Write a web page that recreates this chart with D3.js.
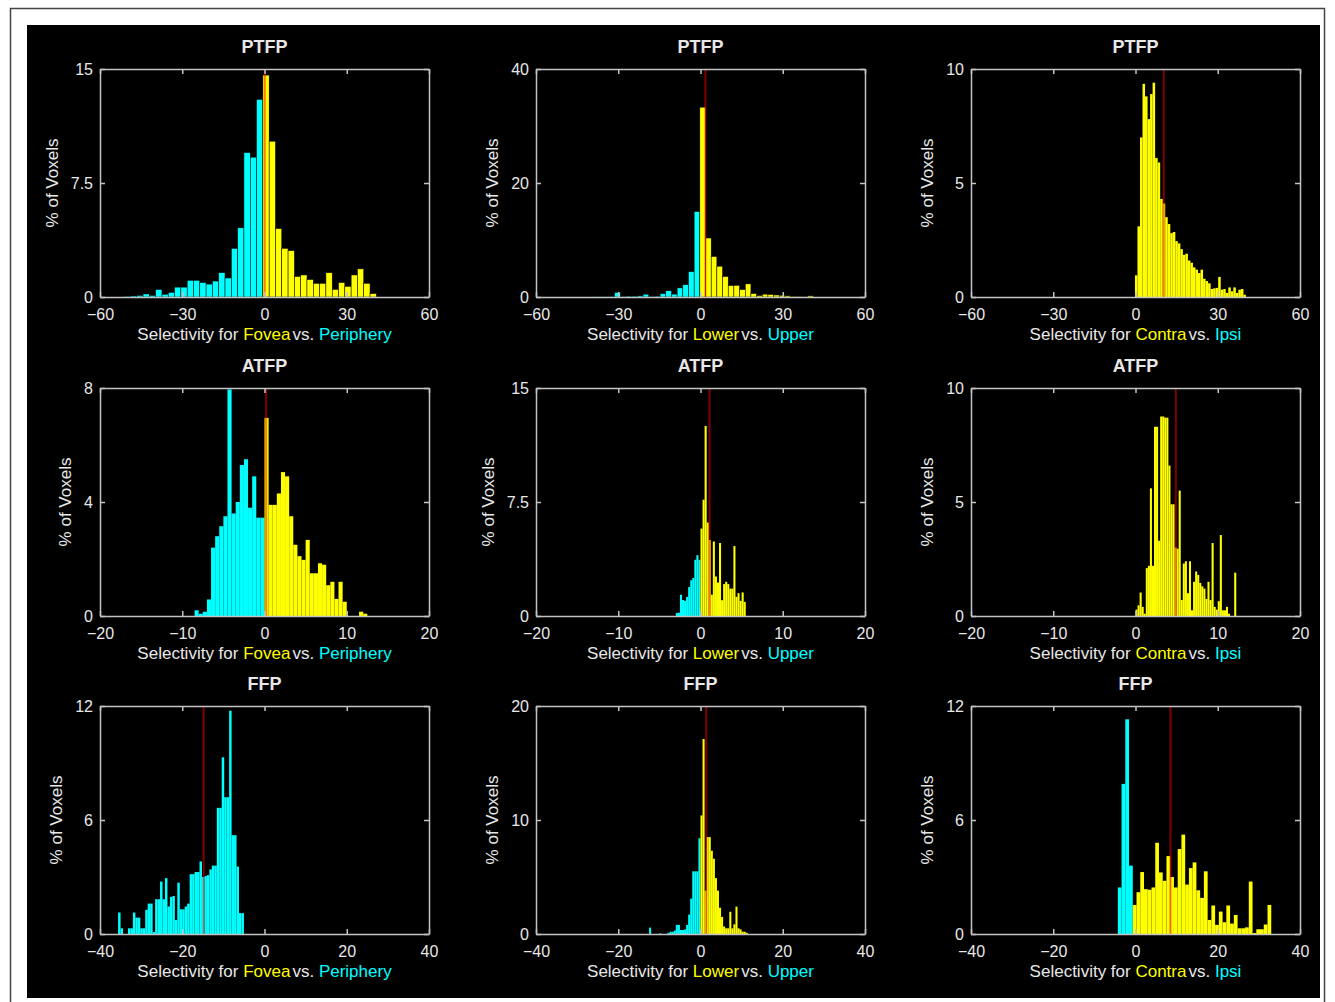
<!DOCTYPE html>
<html><head><meta charset="utf-8">
<script src="https://cdn.jsdelivr.net/npm/d3@7"></script>
<style>
html,body{margin:0;padding:0;background:#fff;}
svg{display:block;font-family:"Liberation Sans",Arial,Helvetica,sans-serif;}
</style></head><body>
<svg id="chart" width="1335" height="1002"></svg>
<script>
// ---------- data ----------
const rowTitles = ["PTFP", "ATFP", "FFP"];
const colLabels = [["Fovea", "Periphery"], ["Lower", "Upper"], ["Contra", "Ipsi"]];
const rowXDomain = [[-60, 60], [-20, 20], [-40, 40]];
const rowXTicks = [[-60, -30, 0, 30, 60], [-20, -10, 0, 10, 20], [-40, -20, 0, 20, 40]];
const yMax = [15, 40, 10, 8, 15, 10, 12, 20, 12];
const yTicks = [[0, 7.5, 15], [0, 20, 40], [0, 5, 10], [0, 4, 8], [0, 7.5, 15], [0, 5, 10], [0, 6, 12], [0, 10, 20], [0, 6, 12]];
const binStart = [-51.2, -39.57, -0.2, -8.5, -3, 0, -35.6, -12.5, -4.3];
const binWidth = [2.3, 2.07, 0.92, 0.5, 0.25, 0.25, 0.6, 0.5, 0.91];
const meanLine = [0.1, 1.8, 10.3, 0.2, 1.1, 4.9, -14.8, 1.4, 8.5];

const ptfpFovea = [0.05,0.07,0.1,0.2,0.1,0.5,0.18,0.3,0.65,0.65,1.1,1.1,0.95,0.85,1.05,1.6,1.25,3.2,4.55,9.5,9.2,13.0,
  14.6,10.25,4.5,3.2,3.05,1.35,1.45,1.15,0.9,0.9,1.6,0.5,0.95,0.7,1.45,1.85,0.9,0.22];
const ptfpLower = [0.05,0.05,0.05,0.1,0.8,0.1,0.15,0.15,0.2,0.5,0.1,0.15,0.6,1.1,0.5,1.6,2.15,4.45,15.0,
  33.3,10.35,7.1,5.4,3.6,2.0,2.05,1.3,2.3,0.6,0.25,0.5,0.45,0.35,0.3,0.2,0.1,0.1,0.05,0.2];
const ptfpContra = [0.95,3.1,7.0,9.35,8.8,7.8,8.9,9.4,6.1,5.9,4.3,4.1,3.5,3.2,2.8,2.85,2.45,2.35,2.1,1.85,1.9,1.6,1.5,1.3,
  1.2,1.05,1.2,0.8,0.7,0.6,0.35,0.38,0.4,0.88,0.32,0.35,0.18,0.42,0.25,0.42,0.18,0.32,0.35,0.1];
const atfpFovea = [0.2,0.08,0.15,0.58,2.4,2.8,3.15,3.5,7.95,3.6,4.0,5.3,5.5,3.8,4.9,3.45,3.45,
  6.95,3.9,3.9,4.3,5.05,4.9,3.5,2.5,2.1,1.97,2.67,1.5,1.5,1.85,1.8,1.08,1.2,0.6,1.2,0.5,0,0,0,0.15,0.08];
const atfpLower = [0.2,0.22,1.4,1.05,1.0,1.26,1.9,2.35,2.5,3.7,4.0,3.7,
  5.75,7.65,12.5,6.15,5.0,1.4,4.9,2.6,2.2,4.8,1.04,2.1,2.25,2.1,1.8,1.8,4.6,1.26,1.5,1.0,1.55,0.93];
const atfpContra = [0.28,0.47,1.03,0.4,0.1,2.1,2.2,5.6,2.2,8.3,8.3,3.3,8.75,8.75,8.7,8.7,6.6,4.9,4.9,3.0,2.95,5.5,0.7,2.3,2.4,
  1.0,2.4,0.25,1.5,1.95,1.8,1.45,1.3,1.2,0.75,1.5,0.7,3.2,0.4,0.28,0.65,3.55,0.25,0.25,0.4,0.1,0,0,1.9];
const ffpFovea = [1.13,0.3,0,0,0.3,0.3,1.13,0.86,0.86,0.3,0.3,1.27,1.6,1.6,0.1,1.83,1.83,2.76,1.83,2.94,1.45,1.95,2.0,0.74,2.7,
  1.3,1.3,1.45,1.6,3.15,3.15,3.26,3.26,3.82,3.0,3.05,3.1,3.4,3.6,3.6,6.64,6.64,9.3,7.2,7.2,11.75,5.2,5.2,3.55,1.1,1.1];
const ffpLower = [0.56,0,0,0,0,0.05,0,0,0,0.1,0.2,0.2,0.3,0.8,0.8,0.35,0.35,0.4,0.8,1.7,3.1,5.5,5.5,5.5,8.4,
  10.4,17.1,3.8,8.5,8.5,7.3,6.6,4.9,3.8,2.3,1.5,0.65,0.5,0.5,1.95,0.5,0.85,2.4,0.5,0.4,0.2,0.2,0.1];
const ffpContra = [2.45,7.9,11.3,3.6,1.53,2.2,3.26,2.36,2.33,2.45,4.8,3.24,2.8,4.1,3.0,2.45,4.47,5.23,2.6,3.47,3.77,2.3,1.9,3.3,
  0.74,1.5,0.48,1.18,0.62,1.5,0.55,1.0,0.3,0.3,0.35,2.76,0.05,0.25,0.25,0.5,1.53];

const panelValues = [ptfpFovea, ptfpLower, ptfpContra, atfpFovea, atfpLower, atfpContra, ffpFovea, ffpLower, ffpContra];

// ---------- layout ----------
const colLeft = [100, 536, 971];
const rowTop = [69, 388, 706];
const pw = 329, ph = 228;
const textCol = "#e8e8e8", boxCol = "#c4c4c4";
const YEL = "#ffff00", CYA = "#00ffff";
const fmt = d => d < 0 ? "\u2212" + Math.abs(d) : String(d);

const svg = d3.select("#chart");
svg.append("rect").attr("x", 10.5).attr("y", 8.5).attr("width", 1314).attr("height", 1010)
  .attr("fill", "none").attr("stroke", "#444").attr("stroke-width", 1.5);
svg.append("rect").attr("x", 27).attr("y", 25).attr("width", 1293).attr("height", 973).attr("fill", "#000");

panelValues.forEach((vals, p) => {
  const r = Math.floor(p / 3), c = p % 3;
  const g = svg.append("g").attr("transform", `translate(${colLeft[c]},${rowTop[r]})`);
  const x = d3.scaleLinear().domain(rowXDomain[r]).range([0, pw]);
  const y = d3.scaleLinear().domain([0, yMax[p]]).range([ph, 0]);

  const bins = vals.map((v, i) => ({ x0: binStart[p] + i * binWidth[p], x1: binStart[p] + (i + 1) * binWidth[p], v }));
  const barPx = x(binWidth[p]) - x(0);
  g.selectAll("rect.bar").data(bins.filter(b => b.v > 0)).join("rect").attr("class", "bar")
    .attr("x", b => x(b.x0)).attr("width", b => x(b.x1) - x(b.x0))
    .attr("y", b => y(b.v)).attr("height", b => ph - y(b.v))
    .attr("fill", b => b.x1 > 1e-9 ? YEL : CYA)
    .attr("stroke", barPx > 5 ? "#000" : "none").attr("stroke-width", 0.5);

  g.append("line").attr("x1", x(meanLine[p])).attr("x2", x(meanLine[p])).attr("y1", ph).attr("y2", 0)
    .attr("stroke", "#ff0000").attr("stroke-opacity", 0.5).attr("stroke-width", 2);

  const styleAxis = sel => {
    sel.selectAll("path.domain").attr("stroke", boxCol).attr("stroke-width", 1.5);
    sel.selectAll(".tick line").attr("stroke", boxCol).attr("stroke-width", 1.5);
    sel.selectAll(".tick text").attr("fill", textCol).style("font-size", "16px").style("font-family", "'Liberation Sans',Arial,sans-serif");
  };
  g.append("g").attr("transform", `translate(0,${ph})`)
    .call(d3.axisBottom(x).tickValues(rowXTicks[r]).tickFormat(fmt).tickSize(-5).tickSizeOuter(0).tickPadding(12)).call(styleAxis);
  g.append("g")
    .call(d3.axisTop(x).tickValues(rowXTicks[r]).tickFormat("").tickSize(-5).tickSizeOuter(0)).call(styleAxis);
  const yl = g.append("g")
    .call(d3.axisLeft(y).tickValues(yTicks[p]).tickFormat(fmt).tickSize(-5).tickSizeOuter(0).tickPadding(7)).call(styleAxis);
  g.append("g").attr("transform", `translate(${pw},0)`)
    .call(d3.axisRight(y).tickValues(yTicks[p]).tickFormat("").tickSize(-5).tickSizeOuter(0)).call(styleAxis);

  let maxW = 0;
  yl.selectAll(".tick text").each(function () { maxW = Math.max(maxW, this.getComputedTextLength()); });

  g.append("text").attr("x", pw / 2).attr("y", -16).attr("text-anchor", "middle")
    .attr("fill", textCol).style("font-size", "18px").style("font-weight", "bold").text(rowTitles[r]);

  g.append("text").attr("transform", `translate(${-7 - maxW - 19},${ph / 2}) rotate(-90)`)
    .attr("text-anchor", "middle").attr("dy", "0.35em")
    .attr("fill", textCol).style("font-size", "17px").text("% of Voxels");

  const xl = g.append("text").attr("x", pw / 2).attr("y", ph + 43).attr("text-anchor", "middle")
    .attr("fill", textCol).style("font-size", "17px");
  xl.append("tspan").text("Selectivity for ");
  xl.append("tspan").attr("fill", YEL).text(colLabels[c][0]);
  xl.append("tspan").attr("dx", 2).text("vs. ");
  xl.append("tspan").attr("fill", CYA).text(colLabels[c][1]);
});
</script>
</body></html>
